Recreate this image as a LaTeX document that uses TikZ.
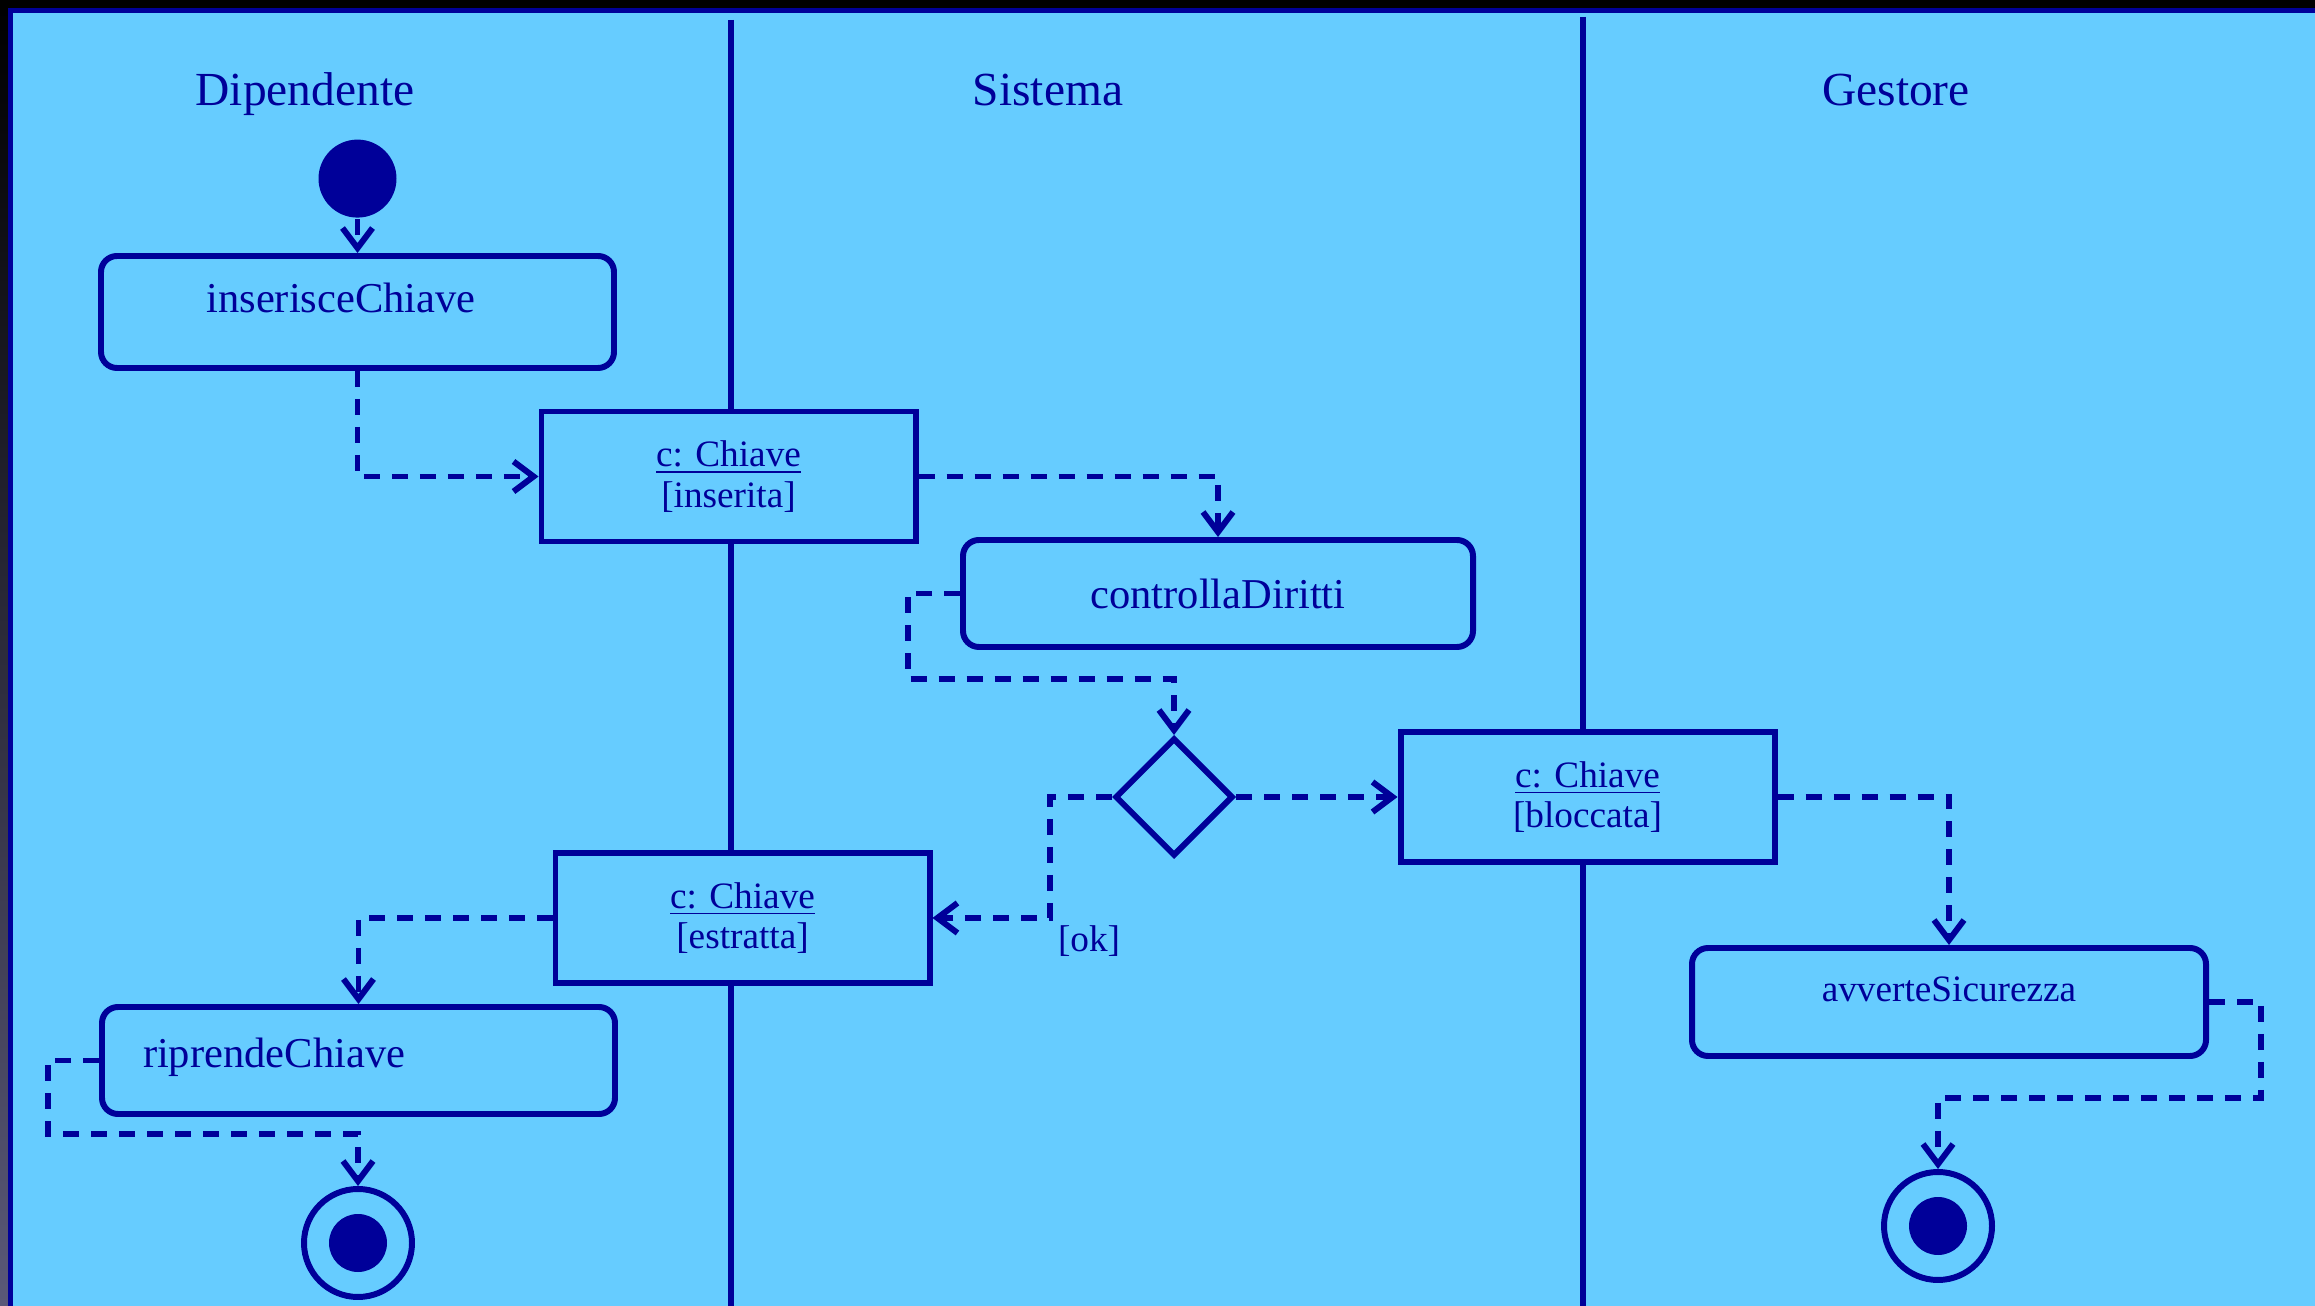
\documentclass[tikz,border=0pt]{standalone}
\usepackage{fontspec}
\setmainfont{Liberation Serif}
\usepackage{tikz}
\usetikzlibrary{arrows.meta,positioning,shapes.geometric}
\definecolor{umlblue}{HTML}{000099}
\definecolor{slide}{HTML}{66CCFF}
\definecolor{bordo}{HTML}{5A5878}
\tikzset{
    %Define standard arrow tip
    >={Straight Barb[length=0.2cm,width=0.3cm]},
    %Define style for activities
    attivita/.style={
           rectangle,
           rounded corners=0.16cm,
           draw=umlblue, line width=1.7pt,
           fill=slide,
           minimum width=5.13cm,
           minimum height=1.12cm,
           font=\fontsize{12.1}{14}\selectfont,
           text=umlblue,
           text centered},
    %Define style for objects
    oggetto/.style={
           rectangle,
           draw=umlblue, line width=1.7pt,
           fill=slide,
           minimum width=3.74cm,
           minimum height=1.3cm,
           font=\fontsize{10.6}{11.6}\selectfont,
           text=umlblue,
           align=center},
    decisione/.style={
           diamond,
           draw=umlblue, line width=1.7pt,
           fill=slide,
           minimum width=1.18cm,
           minimum height=1.18cm,
           inner sep=0pt},
    inizio/.style={
           circle,
           fill=umlblue,
           minimum size=0.78cm,
           inner sep=0pt},
    fine/.style={
           circle,
           draw=umlblue, line width=1.7pt,
           minimum size=1.08cm,
           inner sep=0pt,
           path picture={\fill[umlblue] (path picture bounding box.center) circle (0.29cm);}},
    corsia/.style={
           font=\fontsize{13.5}{16}\selectfont,
           text=umlblue,
           anchor=base},
    guardia/.style={
           font=\fontsize{10.6}{12}\selectfont,
           text=umlblue,
           inner sep=0.05cm},
    % Define arrow style
    flusso/.style={
           ->,
           draw=umlblue,
           line width=1.7pt,
           dash pattern=on 0.16cm off 0.12cm}
}

\begin{document}
\begin{tikzpicture}[thick, node distance=1cm]

 %slide
 \useasboundingbox (0,0) rectangle (23.15,-13.06);
 \fill[black] (0,0) rectangle (23.15,-13.06);
 \shade[top color=black, bottom color=bordo] (0,-0.08) rectangle (0.09,-13.06);
 \fill[slide] (0.1,-0.1) rectangle (23.15,-13.06);
 \draw[umlblue, line width=1.4pt] (0.105,-13.06) -- (0.105,-0.105) -- (23.15,-0.105);

 %swimlanes
 \draw[umlblue, line width=1.5pt] (7.31,-0.2) -- (7.31,-13.06);
 \draw[umlblue, line width=1.5pt] (15.83,-0.17) -- (15.83,-13.06);
 \node[corsia] (dip) at (3.05,-1.06) {Dipendente};
 \node[corsia] (sis) at (10.48,-1.06) {Sistema};
 \node[corsia] (ges) at (18.96,-1.06) {Gestore};

 %nodes
 \node[attivita, text depth=0.29cm] (ins) at (3.575,-3.12) {inserisceChiave\hspace*{0.33cm}};
 \node[inizio, above=0.34cm of ins] (start) {};
 \node[oggetto] (inserita) at (7.285,-4.765) {\underline{c: Chiave}\\ {[inserita]}};
 \node[attivita, minimum width=5.1cm, minimum height=1.07cm] (ctrl) at (12.18,-5.935) {controllaDiritti};
 \node[decisione] (dec) at (11.74,-7.97) {};
 \node[oggetto] (bloccata) at (15.875,-7.97) {\underline{c: Chiave}\\ {[bloccata]}};
 \node[oggetto] (estratta) at (7.425,-9.18) {\underline{c: Chiave}\\ {[estratta]}};
 \node[attivita, text width=4.31cm, align=left, inner xsep=0.41cm, minimum height=1.07cm, text depth=0.16cm] (rip) at (3.585,-10.605) {riprendeChiave};
 \node[attivita, font=\fontsize{10.6}{12}\selectfont, minimum width=5.14cm, minimum height=1.08cm, text depth=0.25cm] (avv) at (19.49,-10.02) {avverteSicurezza};
 \node[fine] (endA) at (3.58,-12.43) {};
 \node[fine] (endB) at (19.38,-12.26) {};

 \coordinate (k1) at (9.08,-6.79);
 \coordinate (k2) at (10.50,-9.18);
 \coordinate (k3) at (0.48,-11.34);
 \coordinate (k4) at (22.61,-10.98);

 %flows
 \draw[flusso] (start) -- (ins);
 \draw[flusso] (ins.south) |- (inserita.west);
 \draw[flusso] (inserita.east) -| (ctrl.north);
 \draw[flusso] (ctrl.west) -| (k1) -| (dec.north);
 \draw[flusso] (dec.east) -- (bloccata.west);
 \draw[flusso] (dec.west) -| (k2) node[guardia, anchor=north west] (ok) {[ok]} -- (estratta.east);
 \draw[flusso] (estratta.west) -| (rip.north);
 \draw[flusso] (rip.west) -| (k3) -| (endA.north);
 \draw[flusso] (bloccata.east) -| (avv.north);
 \draw[flusso] (avv.east) -| (k4) -| (endB.north);
\end{tikzpicture}
\end{document}
